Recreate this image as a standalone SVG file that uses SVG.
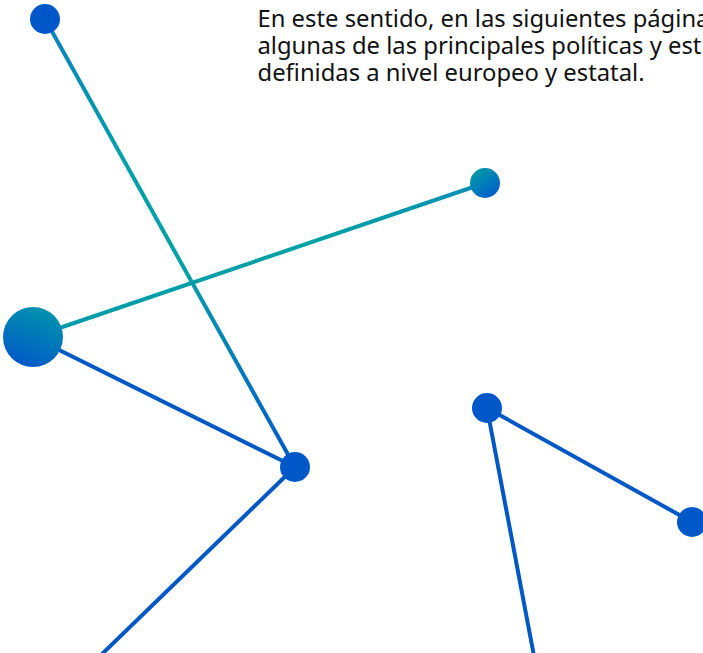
<svg xmlns="http://www.w3.org/2000/svg" width="703" height="653" viewBox="0 0 703 653">
<defs>
<style>
.t{font-family:"Noto Sans","Open Sans",sans-serif;font-size:23.8px;fill:#111111}
.ln{stroke-width:4;fill:none;stroke-linecap:round}
.blue{stroke:#0058c4}
.dot{fill:#0058c8}
</style>
<linearGradient id="gAD" gradientUnits="userSpaceOnUse" x1="45" y1="19" x2="295" y2="467">
<stop offset="0" stop-color="#0a80c0"/>
<stop offset="0.3" stop-color="#00a0a8"/>
<stop offset="0.55" stop-color="#00a0a8"/>
<stop offset="1" stop-color="#0058c8"/>
</linearGradient>
<linearGradient id="gCB" gradientUnits="userSpaceOnUse" x1="33" y1="337" x2="485" y2="183">
<stop offset="0" stop-color="#009aac"/>
<stop offset="0.6" stop-color="#00a2a4"/>
<stop offset="1" stop-color="#0a8fb4"/>
</linearGradient>
<linearGradient id="gNode" x1="0.7" y1="0" x2="0.3" y2="1">
<stop offset="0" stop-color="#0094ac"/>
<stop offset="1" stop-color="#0058c8"/>
</linearGradient>
<linearGradient id="gNodeB" x1="0.2" y1="0.1" x2="0.8" y2="0.9">
<stop offset="0" stop-color="#0098a8"/>
<stop offset="1" stop-color="#0060c8"/>
</linearGradient>
</defs>
<rect width="703" height="653" fill="#ffffff"/>
<g id="connectors">
<line class="ln" x1="45" y1="19" x2="295" y2="467" stroke="url(#gAD)"/>
<line class="ln" x1="33" y1="337" x2="485" y2="183" stroke="url(#gCB)"/>
<line class="ln blue" x1="33" y1="337" x2="295" y2="467"/>
<line class="ln blue" x1="295" y1="467" x2="100" y2="656"/>
<line class="ln blue" x1="487" y1="408" x2="692" y2="522"/>
<line class="ln blue" x1="487" y1="408" x2="534" y2="656"/>
</g>
<g id="nodeA"><circle class="dot" cx="45" cy="19" r="15"/></g>
<g id="nodeB"><circle cx="485" cy="183" r="15" fill="url(#gNodeB)"/></g>
<g id="nodeC"><circle cx="33" cy="337" r="30" fill="url(#gNode)"/></g>
<g id="nodeD"><circle class="dot" cx="295" cy="467" r="15"/></g>
<g id="nodeE"><circle class="dot" cx="487" cy="408" r="15"/></g>
<g id="nodeF"><circle class="dot" cx="692" cy="522" r="15"/></g>
<g id="text">
<text class="t" x="257.5" y="27">En este sentido, en las siguientes página</text>
<text class="t" x="257.5" y="54">algunas de las principales políticas y est</text>
<text class="t" x="257.5" y="81">definidas a nivel europeo y estatal.</text>
</g>
</svg>
